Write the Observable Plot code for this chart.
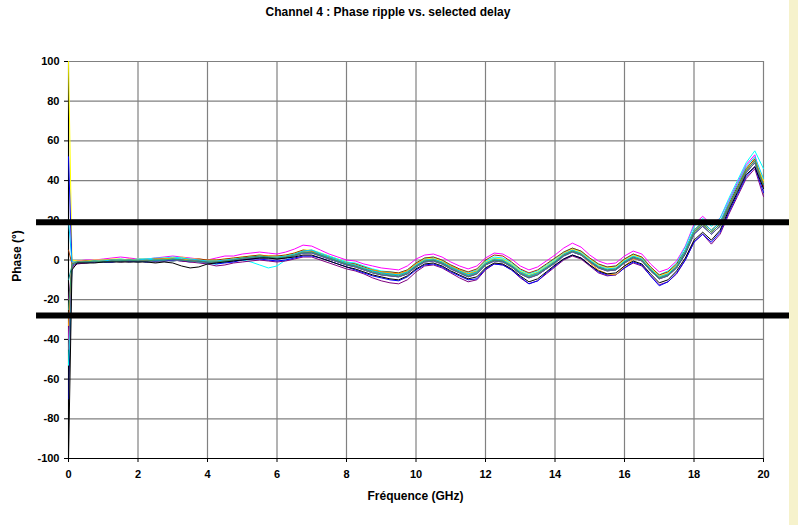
<!DOCTYPE html>
<html><head><meta charset="utf-8">
<script src="https://cdn.jsdelivr.net/npm/d3@7"></script>
<script src="https://cdn.jsdelivr.net/npm/@observablehq/plot@0.6"></script>
<style>
body{margin:0;background:#fff;}
#wrap{position:relative;width:798px;height:525px;overflow:hidden;font-family:"Liberation Sans",Arial,sans-serif;}
#wrap svg{position:absolute;left:0;top:0;}
.lbl{position:absolute;font-weight:bold;color:#000;white-space:nowrap;}
#strip{position:absolute;left:789px;top:0;width:9px;height:525px;background:#F6F2CC;}
</style></head>
<body><div id="wrap"></div>
<script>
const title = "Channel 4 : Phase ripple vs. selected delay";
const xLabel = "Fréquence (GHz)";
const yLabel = "Phase (°)";
const xTicks = [0,2,4,6,8,10,12,14,16,18,20];
const yTicks = [-100,-80,-60,-40,-20,0,20,40,60,80,100];
const limits = [19, -28];
const limitSpan = [-0.92, 20.9];

const freq = [0,0.1,0.25,0.5,0.75,1,1.25,1.5,1.75,2,2.25,2.5,2.75,3,3.25,3.5,3.75,4,4.25,4.5,4.75,5,5.25,5.5,5.75,6,6.25,6.5,6.75,7,7.25,7.5,7.75,8,8.25,8.5,8.75,9,9.25,9.5,9.75,10,10.25,10.5,10.75,11,11.25,11.5,11.75,12,12.25,12.5,12.75,13,13.25,13.5,13.75,14,14.25,14.5,14.75,15,15.25,15.5,15.75,16,16.25,16.5,16.75,17,17.25,17.5,17.75,18,18.25,18.5,18.75,19,19.25,19.5,19.75,20];

const seriesNames = ["s1","s2","s3","s4","s5","s6","s7","s8","s9","s11","s12","s13","s10"];
const seriesColors = ["#000080","#FF00FF","#FFFF00","#00FFFF","#800080","#993300","#008080","#0000FF","#FF9900","#00CCFF","#666699","#339966","#000000"];

const s1 = [-70,-3,-1.5,-1.5,-1,-1,-1,-0.5,-1,-0.5,-1,-0.5,-0.5,0,-0.5,-1,-0.5,-1.5,-1,-1,-0.5,0,0.5,1,1,0.5,1,2,3.5,3.5,2,0.5,-1,-2.5,-3.5,-5,-6.5,-7.5,-8,-8.5,-7,-3.5,-1,-0.5,-2,-4.5,-6.5,-8.5,-7,-2.5,-0.5,-1,-3.5,-7,-9,-7.5,-4.5,-1.5,2,4,2.5,-1,-4,-5.5,-5,-1.5,1,-0.5,-5.5,-9.5,-8,-4,3,13,17,13,17,26,35,44,49,37];
const s2 = [-40,-2,
  -0.5,0,0,0.5,1,1.5,1,0.5,0.5,1,1.5,2,1.5,1,0.5,0,
  1,2,2,3,3.5,4,3.5,3,4,5.5,7.5,7,5,3,1.5,0,
  -0.5,-2,-3,-4,-4.5,-5,-3,0.5,2.5,3,1.5,-1,-3,-4.5,-3,1,
  3.5,3,0.5,-3,-5,-3.5,-0.5,2.5,6,8.5,6.5,2.5,-0.5,-2,-1.5,2,
  4.5,3,-2,-6,-4.5,-0.5,7,18,22,18,21,30,39,48,53,37];
const s3 = [100,0,-0.5,-0.5,0,0,0.5,0.5,0,0.5,0.5,0,1,1,1.5,0.5,0.5,0,0,0.5,1,1.5,2,2.5,2,2,2.5,3.5,5,5,3.5,2,0.5,-1,-2,-3.5,-5,-6,-6.5,-7,-5.5,-2,0.5,1,-0.5,-3,-5,-7,-5.5,-1,1,0.5,-2,-5.5,-7.5,-6,-3,0,3.5,5.5,4,0.5,-2.5,-4,-3.5,0,2.5,1,-4,-8,-6.5,-2.5,5,15,19,15,19,28,37,46,51,40];
const s4 = [-53,-2,
  -1,-0.5,-0.5,0,0,0.5,0,0.5,0.5,1,1,1.5,1,0,-1,-2,
  -2,-1,0,0,-1,-2.5,-4,-3,0,2,4.5,5,3.5,2,0.5,-1,
  -1.5,-3,-4.5,-5.5,-6,-6.5,-5,-1.5,1,1.5,0,-2.5,-4.5,-6.5,-5,-0.5,
  1.5,1,-1.5,-5,-7,-5.5,-2.5,0.5,4,6,4.5,1,-2,-3.5,-3,0.5,
  3,1.5,-3.5,-7.5,-5.5,-1.5,6.5,17,21,17,21,31,40,49,55,46];
const s5 = [-20,-4,
  -2,-1.5,-1,-1,-0.5,-1,-0.5,-1,-0.5,-1,-0.5,0,-0.5,-1,-1.5,-2,
  -3,-2.5,-1.5,-1,-0.5,0,-0.5,-1,-0.5,0.5,1.5,1.5,0,-1.5,-3,-4.5,
  -5.5,-7,-9,-10.5,-11.5,-12,-10,-6,-3,-2.5,-4,-6.5,-9,-11,-10,-5,
  -2,-2.5,-5,-9,-12,-10.5,-7,-3.5,0,2,0.5,-3,-6.5,-8,-7.5,-4,
  -1.5,-3,-8,-12.5,-11,-7,0,9,13,8,13,23,32,41,46,32];
const s6 = [5,-2,-1,-0.5,-1,-0.5,0,0,-0.5,0,0,0.5,0.5,0.5,0,0,0.5,0,0,0.5,1,1.5,2,2.5,2,2,2.5,3.5,5,4.5,3,1.5,0,-1.5,-2,-3.5,-5,-6,-6,-6.5,-5,-1.5,1,1.5,0,-2.5,-4.5,-6,-4.5,0,2.5,2,-1,-4.5,-6.5,-5,-2,1,4,6,4.5,1,-2,-3.5,-3,0.5,3,1.5,-3.5,-7.5,-6,-2,5,15,19,15,19,28,37,46,51,37];
const s7 = [-10,-3,-1.5,-1,-1,-1,-0.5,-0.5,-0.5,-1,-0.5,-0.5,0,-0.5,0,-0.5,-1,-1,-1,-0.5,0,0.5,1,1.5,1,1,1.5,2.5,3.5,4,2.5,1,-0.5,-2,-3,-4.5,-5.5,-6.5,-7,-7.5,-6,-3,-0.5,0,-1.5,-3.5,-5.5,-7.5,-6,-2,0,-0.5,-3,-6,-8,-6.5,-4,-1,2.5,4.5,3,-0.5,-3.5,-5,-4.5,-1,1.5,0,-5,-9,-7.5,-3.5,4,14,18,14,18,27,36,45,50,38];
const s8 = [52,-3,
  -1.5,-1,-1,-1,-1,-0.5,-0.5,-0.5,-1,-0.5,-0.5,0,0,-0.5,-0.5,-1,
  -2,-1.5,-1,0,0.5,0.5,0,-0.5,0,1,2,2,1,-0.5,-2,-3.5,
  -5,-6.5,-8,-9,-10,-10.5,-8.5,-5,-2.5,-2,-3.5,-6,-8,-10,-9.5,-4.5,
  -2,-2.5,-5,-8.5,-12,-10.5,-6.5,-3,0.5,2.5,1,-2.5,-6,-7.5,-7.5,-4,
  -1,-2.5,-8,-13,-11,-6.5,0,9,13,9,14,24,33,42,47,34];
const s9 = [-33,-1,-1,-0.5,-0.5,0,0,0,0.5,0,0,0.5,0.5,1,0.5,0,0,-0.5,-0.5,0,0.5,1,1.5,2,2,1.5,2,3,4.5,4.5,3,1.5,0,-1.5,-2.5,-4,-5,-6,-6.5,-7,-5.5,-2,0,0.5,-1,-3,-5,-7,-5.5,-1.5,0.5,0,-2.5,-6,-8,-6.5,-3.5,-0.5,3,5,3,-1.5,-5,-7,-7.5,-3,0.5,0,-4.5,-8.5,-7,-3,4.5,14,18,14,18,27,36,45,50,39];
const s10 = [-100,-5,
  -1.5,-1.5,-1.5,-1,-1,-1,-1,-1,-1,-1.5,-1,-1.5,-3,-4,-3.5,-2,
  -1.5,-1,-0.5,0,0.5,1,1,0.5,1,1.5,2.5,2.5,1,-0.5,-2,-3.5,
  -4.5,-6,-7.5,-8.5,-9.5,-10,-8,-4.5,-2,-1.5,-3,-5.5,-7.5,-9.5,-8.5,-4,
  -1.5,-2,-4.5,-8,-11,-9.5,-6,-2.5,0.5,2.5,1,-2.5,-5.5,-7,-6.5,-3,
  -0.5,-2,-7,-11.5,-10,-5.5,1,10,14,10,15,25,34,43,47,36];
const s11 = [20,-1,-1,-1,-0.5,-0.5,0,0,0,0,0.5,0,0,0.5,1,0.5,0,-0.5,-0.5,0,0.5,1,1.5,2,1.5,1.5,2,3,4.5,5,3,1.5,0,-1.5,-2.5,-4,-5.5,-6.5,-7,-7.5,-6,-2.5,0,0.5,-1,-3.5,-5.5,-7.5,-6,-1.5,0.5,0,-2.5,-6,-8,-6.5,-3.5,-0.5,3,5,3.5,0,-3,-4.5,-4,-0.5,2,0.5,-4.5,-8.5,-7,-3,5,15,19,15,19,29,38,47,52,41];
const s12 = [-45,-3,-1.5,-1,-1,-1,-0.5,-1,-0.5,-0.5,-0.5,-1,-0.5,-0.5,0,-0.5,-1,-1.5,-1,-0.5,0,0.5,1,1,0.5,0.5,1,2,3.5,3.5,2,0.5,-1,-2.5,-3.5,-5,-6.5,-7.5,-8,-8.5,-7,-3.5,-1,-0.5,-2,-4.5,-6.5,-8.5,-7,-2.5,-0.5,-1,-3.5,-7,-9,-7.5,-4.5,-1.5,2,4,2.5,-1,-4,-5.5,-5,-1.5,1,-0.5,-5.5,-9.5,-8,-4,3.5,13,17,13,17,26,35,44,49,36];
const s13 = [-25,-2,
  -1,-1,-0.5,-1,-0.5,-0.5,0,-0.5,-0.5,0,0,0.5,0,-0.5,-0.5,-1,
  -1,-0.5,0,1,1.5,2,1.5,1,1.5,2.5,4,4,2.5,1,-0.5,-2,
  -3,-4.5,-6,-7,-7.5,-8,-6.5,-3,-0.5,0,-1.5,-4,-6,-8,-6.5,-2,
  0,-0.5,-3,-6.5,-8.5,-7,-4,-1,2.5,4.5,3,-0.5,-3.5,-5,-4.5,-1,
  1.5,0,-5,-9,-7.5,-3.5,4,14,18,14,18,27,36,45,50,38];

const seriesValues = {s1,s2,s3,s4,s5,s6,s7,s8,s9,s10,s11,s12,s13};
const rows = seriesNames.flatMap(name => seriesValues[name].map((v, i) => ({f: freq[i], v, series: name})));

const chart = Plot.plot({
  width: 798, height: 525,
  marginLeft: 68, marginRight: 35, marginTop: 61, marginBottom: 67,
  style: {fontFamily: '"Liberation Sans", Arial, sans-serif', fontSize: "11px", fontWeight: "bold", background: "transparent"},
  x: {domain: [0, 20], label: null},
  y: {domain: [-100, 100], label: null},
  color: {domain: seriesNames, range: seriesColors},
  marks: [
    Plot.gridX(xTicks, {stroke: "#808080", strokeOpacity: 1, strokeWidth: 1.2}),
    Plot.gridY(yTicks, {stroke: "#808080", strokeOpacity: 1, strokeWidth: 1.2}),
    Plot.axisX(xTicks, {tickSize: 4, tickPadding: 8, tickFormat: d => `${d}`, fill: "#000"}),
    Plot.axisY(yTicks, {tickSize: 4, tickPadding: 5, tickFormat: d => `${d}`, fill: "#000"}),
    Plot.ruleX([0], {stroke: "#000"}),
    Plot.ruleY([-100], {stroke: "#000"}),
    Plot.line(rows, {x: "f", y: "v", z: "series", stroke: "series", strokeWidth: 1}),
    Plot.ruleY(limits, {x1: limitSpan[0], x2: limitSpan[1], stroke: "#000", strokeWidth: 6})
  ]
});

const wrap = document.getElementById("wrap");
wrap.appendChild(chart);
const strip = document.createElement("div"); strip.id = "strip"; wrap.appendChild(strip);
function addLabel(text, css) {
  const d = document.createElement("div"); d.className = "lbl"; d.textContent = text;
  Object.assign(d.style, css); wrap.appendChild(d); return d;
}
addLabel(title, {left: "0px", width: "776px", top: "5px", textAlign: "center", fontSize: "12px"});
addLabel(xLabel, {left: "0px", width: "831px", top: "489px", textAlign: "center", fontSize: "12px"});
addLabel(yLabel, {left: "17px", top: "256px", fontSize: "12px", transform: "translate(-50%,-50%) rotate(-90deg)"});
</script>
</body></html>
